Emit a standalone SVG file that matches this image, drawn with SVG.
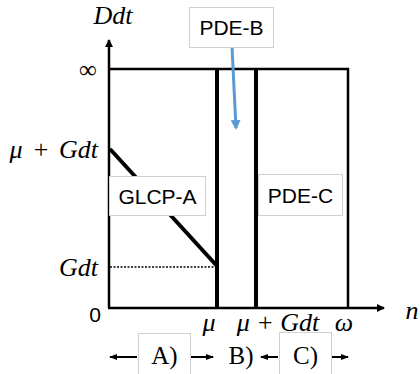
<svg xmlns="http://www.w3.org/2000/svg" width="420" height="374" viewBox="0 0 420 374">
<defs>
<marker id="ah" markerWidth="8" markerHeight="8" refX="7" refY="4" orient="auto" markerUnits="userSpaceOnUse"><path d="M0,0 L8,4 L0,8 z" fill="#000"/></marker>
<marker id="ahs" markerWidth="8" markerHeight="6" refX="7" refY="3" orient="auto" markerUnits="userSpaceOnUse"><path d="M0,0 L8,3 L0,6 z" fill="#000"/></marker>
<marker id="ahb" markerWidth="10" markerHeight="10" refX="8" refY="5" orient="auto" markerUnits="userSpaceOnUse"><path d="M0,0 L10,5 L0,10 z" fill="#5b9bd5"/></marker>
</defs>
<style>
.m{font-family:"Liberation Serif","DejaVu Serif",serif;font-style:italic;font-size:26px;fill:#000}
.mr{font-family:"Liberation Serif","DejaVu Serif",serif;font-size:25px;fill:#000}
.s{font-family:"Liberation Sans","DejaVu Sans",sans-serif;font-size:21px;fill:#000}
.box{fill:#fff;stroke:#d0d0d0;stroke-width:1}
.thick{stroke:#000;stroke-width:4;fill:none}
.ax{stroke:#000;stroke-width:2.5;fill:none}
</style>
<rect width="420" height="374" fill="#fff"/>
<g id="connectors">
<line class="ax" x1="109" y1="308" x2="109" y2="40" marker-end="url(#ah)"/>
<line class="ax" x1="108" y1="308" x2="384" y2="308" marker-end="url(#ah)"/>
<line x1="109" y1="69" x2="349" y2="69" stroke="#000" stroke-width="2.5"/>
<line x1="348" y1="68" x2="348" y2="308" stroke="#000" stroke-width="2.5"/>
<line class="thick" x1="217" y1="69" x2="217" y2="308"/>
<line class="thick" x1="256" y1="69" x2="256" y2="308"/>
<line class="thick" x1="110" y1="149" x2="217" y2="266"/>
<line x1="110" y1="267" x2="216" y2="267" stroke="#000" stroke-width="1.5" stroke-dasharray="2,1.5"/>
<line x1="232" y1="47" x2="236" y2="128" stroke="#5b9bd5" stroke-width="3" marker-end="url(#ahb)"/>
<line x1="137" y1="357" x2="110" y2="357" stroke="#000" stroke-width="2" marker-end="url(#ahs)"/>
<line x1="191" y1="357" x2="213" y2="357" stroke="#000" stroke-width="2" marker-end="url(#ahs)"/>
<line x1="278" y1="357" x2="261" y2="357" stroke="#000" stroke-width="2" marker-end="url(#ahs)"/>
<line x1="332" y1="357" x2="348" y2="357" stroke="#000" stroke-width="2" marker-end="url(#ahs)"/>
</g>
<g id="axis-labels">
<text class="m" x="113" y="24" text-anchor="middle">Ddt</text>
<text class="mr" x="88" y="78" text-anchor="middle" font-size="28">∞</text>
<text class="m" x="98" y="158" text-anchor="end" word-spacing="3">μ + Gdt</text>
<text class="m" x="98" y="276" text-anchor="end">Gdt</text>
<text class="s" x="95" y="322" text-anchor="middle">0</text>
<text class="m" x="209" y="331" text-anchor="middle">μ</text>
<text class="m" x="278" y="331" text-anchor="middle">μ + Gdt</text>
<text class="m" x="344" y="331" text-anchor="middle">ω</text>
<text class="m" x="412" y="319" text-anchor="middle">n</text>
<text class="mr" x="241" y="364" text-anchor="middle">B)</text>
</g>
<g id="node-pdeb">
<rect class="box" x="189.5" y="7.5" width="84" height="40"/>
<text class="s" x="231.5" y="35" text-anchor="middle">PDE-B</text>
</g>
<g id="node-glcpa">
<rect class="box" x="109.5" y="176.5" width="96" height="39"/>
<text class="s" x="157.5" y="204" text-anchor="middle">GLCP-A</text>
</g>
<g id="node-pdec">
<rect class="box" x="258.5" y="174.5" width="84" height="41"/>
<text class="s" x="300.5" y="203" text-anchor="middle">PDE-C</text>
</g>
<g id="node-a">
<rect class="box" x="138.5" y="333.5" width="52" height="45"/>
<text class="mr" x="164.5" y="364" text-anchor="middle">A)</text>
</g>
<g id="node-c">
<rect class="box" x="279.5" y="332.5" width="52" height="45"/>
<text class="mr" x="305.5" y="364" text-anchor="middle">C)</text>
</g>
</svg>
